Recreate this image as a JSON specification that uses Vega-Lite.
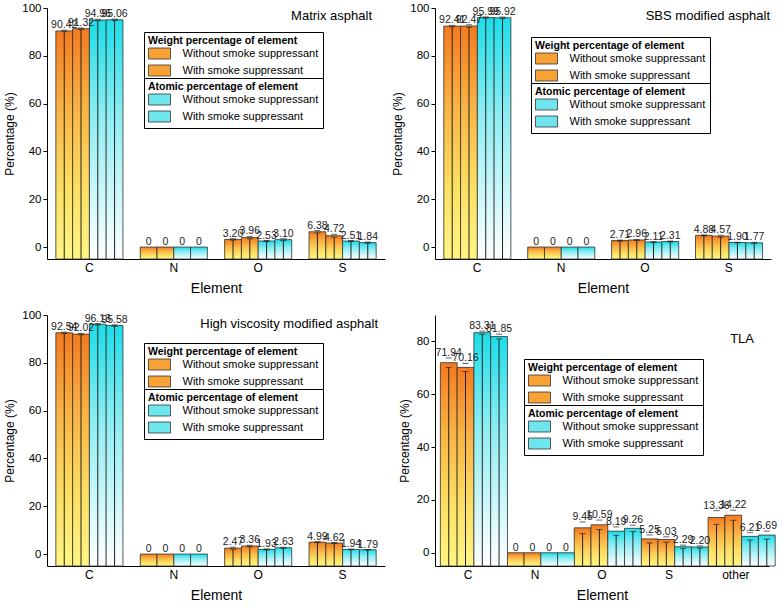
{
  "$schema": "https://vega.github.io/schema/vega-lite/v6.json",
  "padding": {"left": 3, "top": 2, "right": 5, "bottom": 5},
  "background": "white",
  "datasets": {
    "d": [
      {"p": "Matrix asphalt", "el": "C", "k": "W0", "v": 90.42, "e": 0.3},
      {"p": "Matrix asphalt", "el": "C", "k": "W1", "v": 91.32, "e": 0.3},
      {"p": "Matrix asphalt", "el": "C", "k": "A0", "v": 94.96, "e": 0.3},
      {"p": "Matrix asphalt", "el": "C", "k": "A1", "v": 95.06, "e": 0.3},
      {"p": "Matrix asphalt", "el": "N", "k": "W0", "v": 0, "e": 0},
      {"p": "Matrix asphalt", "el": "N", "k": "W1", "v": 0, "e": 0},
      {"p": "Matrix asphalt", "el": "N", "k": "A0", "v": 0, "e": 0},
      {"p": "Matrix asphalt", "el": "N", "k": "A1", "v": 0, "e": 0},
      {"p": "Matrix asphalt", "el": "O", "k": "W0", "v": 3.20, "e": 0.3},
      {"p": "Matrix asphalt", "el": "O", "k": "W1", "v": 3.96, "e": 0.5},
      {"p": "Matrix asphalt", "el": "O", "k": "A0", "v": 2.53, "e": 0.2},
      {"p": "Matrix asphalt", "el": "O", "k": "A1", "v": 3.10, "e": 0.4},
      {"p": "Matrix asphalt", "el": "S", "k": "W0", "v": 6.38, "e": 0.5},
      {"p": "Matrix asphalt", "el": "S", "k": "W1", "v": 4.72, "e": 0.6},
      {"p": "Matrix asphalt", "el": "S", "k": "A0", "v": 2.51, "e": 0.2},
      {"p": "Matrix asphalt", "el": "S", "k": "A1", "v": 1.84, "e": 0.3},
      {"p": "SBS modified asphalt", "el": "C", "k": "W0", "v": 92.41, "e": 0.3},
      {"p": "SBS modified asphalt", "el": "C", "k": "W1", "v": 92.47, "e": 0.5},
      {"p": "SBS modified asphalt", "el": "C", "k": "A0", "v": 95.99, "e": 0.3},
      {"p": "SBS modified asphalt", "el": "C", "k": "A1", "v": 95.92, "e": 0.3},
      {"p": "SBS modified asphalt", "el": "N", "k": "W0", "v": 0, "e": 0},
      {"p": "SBS modified asphalt", "el": "N", "k": "W1", "v": 0, "e": 0},
      {"p": "SBS modified asphalt", "el": "N", "k": "A0", "v": 0, "e": 0},
      {"p": "SBS modified asphalt", "el": "N", "k": "A1", "v": 0, "e": 0},
      {"p": "SBS modified asphalt", "el": "O", "k": "W0", "v": 2.71, "e": 0.2},
      {"p": "SBS modified asphalt", "el": "O", "k": "W1", "v": 2.96, "e": 0.2},
      {"p": "SBS modified asphalt", "el": "O", "k": "A0", "v": 2.11, "e": 0.1},
      {"p": "SBS modified asphalt", "el": "O", "k": "A1", "v": 2.31, "e": 0.2},
      {"p": "SBS modified asphalt", "el": "S", "k": "W0", "v": 4.88, "e": 0.2},
      {"p": "SBS modified asphalt", "el": "S", "k": "W1", "v": 4.57, "e": 0.4},
      {"p": "SBS modified asphalt", "el": "S", "k": "A0", "v": 1.90, "e": 0.1},
      {"p": "SBS modified asphalt", "el": "S", "k": "A1", "v": 1.77, "e": 0.2},
      {"p": "High viscosity modified asphalt", "el": "C", "k": "W0", "v": 92.54, "e": 0.3},
      {"p": "High viscosity modified asphalt", "el": "C", "k": "W1", "v": 92.02, "e": 0.3},
      {"p": "High viscosity modified asphalt", "el": "C", "k": "A0", "v": 96.13, "e": 0.3},
      {"p": "High viscosity modified asphalt", "el": "C", "k": "A1", "v": 95.58, "e": 0.3},
      {"p": "High viscosity modified asphalt", "el": "N", "k": "W0", "v": 0, "e": 0},
      {"p": "High viscosity modified asphalt", "el": "N", "k": "W1", "v": 0, "e": 0},
      {"p": "High viscosity modified asphalt", "el": "N", "k": "A0", "v": 0, "e": 0},
      {"p": "High viscosity modified asphalt", "el": "N", "k": "A1", "v": 0, "e": 0},
      {"p": "High viscosity modified asphalt", "el": "O", "k": "W0", "v": 2.47, "e": 0.4},
      {"p": "High viscosity modified asphalt", "el": "O", "k": "W1", "v": 3.36, "e": 0.3},
      {"p": "High viscosity modified asphalt", "el": "O", "k": "A0", "v": 1.93, "e": 0.2},
      {"p": "High viscosity modified asphalt", "el": "O", "k": "A1", "v": 2.63, "e": 0.2},
      {"p": "High viscosity modified asphalt", "el": "S", "k": "W0", "v": 4.99, "e": 0.2},
      {"p": "High viscosity modified asphalt", "el": "S", "k": "W1", "v": 4.62, "e": 0.2},
      {"p": "High viscosity modified asphalt", "el": "S", "k": "A0", "v": 1.94, "e": 0.1},
      {"p": "High viscosity modified asphalt", "el": "S", "k": "A1", "v": 1.79, "e": 0.1},
      {"p": "TLA", "el": "C", "k": "W0", "v": 71.94, "e": 1.8},
      {"p": "TLA", "el": "C", "k": "W1", "v": 70.16, "e": 1.5},
      {"p": "TLA", "el": "C", "k": "A0", "v": 83.31, "e": 0.6},
      {"p": "TLA", "el": "C", "k": "A1", "v": 81.85, "e": 0.9},
      {"p": "TLA", "el": "N", "k": "W0", "v": 0, "e": 0},
      {"p": "TLA", "el": "N", "k": "W1", "v": 0, "e": 0},
      {"p": "TLA", "el": "N", "k": "A0", "v": 0, "e": 0},
      {"p": "TLA", "el": "N", "k": "A1", "v": 0, "e": 0},
      {"p": "TLA", "el": "O", "k": "W0", "v": 9.45, "e": 2.2},
      {"p": "TLA", "el": "O", "k": "W1", "v": 10.59, "e": 1.8},
      {"p": "TLA", "el": "O", "k": "A0", "v": 8.19, "e": 1.6},
      {"p": "TLA", "el": "O", "k": "A1", "v": 9.26, "e": 1.2},
      {"p": "TLA", "el": "S", "k": "W0", "v": 5.25, "e": 1.5},
      {"p": "TLA", "el": "S", "k": "W1", "v": 5.03, "e": 1.0},
      {"p": "TLA", "el": "S", "k": "A0", "v": 2.29, "e": 0.6},
      {"p": "TLA", "el": "S", "k": "A1", "v": 2.20, "e": 0.4},
      {"p": "TLA", "el": "other", "k": "W0", "v": 13.36, "e": 2.6},
      {"p": "TLA", "el": "other", "k": "W1", "v": 14.22, "e": 1.9},
      {"p": "TLA", "el": "other", "k": "A0", "v": 6.21, "e": 1.4},
      {"p": "TLA", "el": "other", "k": "A1", "v": 6.69, "e": 1.5}
    ]
  },
  "config": {
    "view": {"stroke": null},
    "font": "Liberation Sans",
    "axis": {"grid": false, "domainColor": "#000", "tickColor": "#000", "labelColor": "#000", "titleColor": "#000", "titleFontWeight": "normal"},
    "axisX": {"ticks": false, "labelAngle": 0, "labelPadding": 3, "labelFontSize": 12, "titleFontSize": 14, "titlePadding": 8},
    "axisY": {"tickSize": 4, "labelPadding": 2, "labelFontSize": 11.5, "titleFontSize": 12, "titlePadding": 5},
    "legend": {
      "orient": "none",
      "symbolType": "M-2,-1H2V1H-2Z",
      "symbolSize": 121,
      "symbolOffset": 5.5,
      "labelOffset": 17,
      "labelFontSize": 11,
      "labelColor": "#000",
      "titleFontSize": 10.5,
      "titleFontWeight": "bold",
      "titleColor": "#000",
      "titlePadding": 1,
      "padding": 4,
      "rowPadding": 1,
      "strokeColor": "#000",
      "fillColor": "white",
      "symbolStrokeColor": "#333",
      "symbolStrokeWidth": 0.8
    }
  },
  "resolve": {"scale": {"fill": "independent", "color": "independent"}, "legend": {"fill": "independent", "color": "independent"}},
  "spacing": 14,
  "vconcat": [
    {
      "spacing": 50,
      "bounds": "flush",
      "resolve": {"scale": {"fill": "independent", "color": "independent"}, "legend": {"fill": "independent", "color": "independent"}},
      "hconcat": [
        {
          "width": 338, "height": 251,
          "title": {"text": "Matrix asphalt", "frame": "group", "anchor": "end", "offset": -21, "dx": -13, "fontSize": 13, "fontWeight": "normal"},
          "data": {"name": "d"},
          "transform": [
            {"filter": "datum.p == 'Matrix asphalt'"},
            {"calculate": "datum.v - datum.e", "as": "lo"},
            {"calculate": "datum.v + datum.e", "as": "hi"},
            {"calculate": "datum.v == 0 ? '0' : format(datum.v, '.2f')", "as": "lab"}
          ],
          "encoding": {
            "x": {"field": "el", "type": "nominal", "sort": ["C", "N", "O", "S"], "scale": {"paddingInner": 0.205, "paddingOuter": 0.105}, "axis": {"title": "Element"}},
            "xOffset": {"field": "k", "type": "nominal", "scale": {"domain": ["W0", "W1", "A0", "A1"]}},
            "y": {"field": "v", "type": "quantitative", "scale": {"domain": [-5, 100], "nice": false, "zero": false}, "axis": {"title": "Percentage (%)", "values": [0, 20, 40, 60, 80, 100]}},
            "y2": {"datum": -5}
          },
          "layer": [
            {
              "transform": [{"filter": "datum.k[0] == 'W'"}],
              "mark": {"type": "bar"},
              "encoding": {"fill": {"field": "k", "type": "nominal", "scale": {"domain": ["W0", "W1"], "range": ["#F8A236", "#F8A236"]}, "legend": {"title": "Weight percentage of element", "legendX": 97, "legendY": 24, "labelExpr": "datum.value[1] == '0' ? 'Without smoke suppressant' : 'With smoke suppressant'"}}}
            },
            {
              "transform": [{"filter": "datum.k[0] == 'A'"}],
              "mark": {"type": "bar"},
              "encoding": {"color": {"field": "k", "type": "nominal", "scale": {"domain": ["A0", "A1"], "range": ["#6FE6EE", "#6FE6EE"]}, "legend": {"title": "Atomic percentage of element", "legendX": 97, "legendY": 70, "labelExpr": "datum.value[1] == '0' ? 'Without smoke suppressant' : 'With smoke suppressant'"}}}
            },
            {
              "transform": [{"filter": "datum.k[0] == 'W'"}],
              "mark": {"type": "bar", "stroke": "#333", "strokeWidth": 0.8, "fill": {"gradient": "linear", "x1": 0, "y1": 0, "x2": 0, "y2": 1, "stops": [{"offset": 0, "color": "#F47A1F"}, {"offset": 0.35, "color": "#F9B445"}, {"offset": 0.7, "color": "#FCE064"}, {"offset": 1, "color": "#FFF584"}]}}
            },
            {
              "transform": [{"filter": "datum.k[0] == 'A'"}],
              "mark": {"type": "bar", "stroke": "#333", "strokeWidth": 0.8, "fill": {"gradient": "linear", "x1": 0, "y1": 0, "x2": 0, "y2": 1, "stops": [{"offset": 0, "color": "#1CDDE8"}, {"offset": 0.4, "color": "#8DEDF3"}, {"offset": 1, "color": "#FFFFFF"}]}}
            },
            {
              "transform": [{"filter": "datum.e > 0"}],
              "mark": {"type": "rule", "color": "#222", "strokeWidth": 1},
              "encoding": {"y": {"field": "lo", "type": "quantitative"}, "y2": {"field": "hi"}}
            },
            {
              "transform": [{"filter": "datum.e > 0"}],
              "mark": {"type": "tick", "size": 6, "thickness": 1, "color": "#222"},
              "encoding": {"y": {"field": "hi", "type": "quantitative"}, "y2": null}
            },
            {
              "transform": [{"filter": "datum.e > 0"}],
              "mark": {"type": "tick", "size": 6, "thickness": 1, "color": "#222"},
              "encoding": {"y": {"field": "lo", "type": "quantitative"}, "y2": null}
            },
            {
              "mark": {"type": "text", "fontSize": 10.5, "dy": -2, "baseline": "alphabetic", "color": "#222"},
              "encoding": {"y": {"field": "hi", "type": "quantitative"}, "y2": null, "text": {"field": "lab"}}
            }
          ]
        },
        {
          "width": 336, "height": 251,
          "title": {"text": "SBS modified asphalt", "frame": "group", "anchor": "end", "offset": -21, "dx": -1, "fontSize": 13, "fontWeight": "normal"},
          "data": {"name": "d"},
          "transform": [
            {"filter": "datum.p == 'SBS modified asphalt'"},
            {"calculate": "datum.v - datum.e", "as": "lo"},
            {"calculate": "datum.v + datum.e", "as": "hi"},
            {"calculate": "datum.v == 0 ? '0' : format(datum.v, '.2f')", "as": "lab"}
          ],
          "encoding": {
            "x": {"field": "el", "type": "nominal", "sort": ["C", "N", "O", "S"], "scale": {"paddingInner": 0.205, "paddingOuter": 0.105}, "axis": {"title": "Element"}},
            "xOffset": {"field": "k", "type": "nominal", "scale": {"domain": ["W0", "W1", "A0", "A1"]}},
            "y": {"field": "v", "type": "quantitative", "scale": {"domain": [-5, 100], "nice": false, "zero": false}, "axis": {"title": "Percentage (%)", "values": [0, 20, 40, 60, 80, 100]}},
            "y2": {"datum": -5}
          },
          "layer": [
            {
              "transform": [{"filter": "datum.k[0] == 'W'"}],
              "mark": {"type": "bar"},
              "encoding": {"fill": {"field": "k", "type": "nominal", "scale": {"domain": ["W0", "W1"], "range": ["#F8A236", "#F8A236"]}, "legend": {"title": "Weight percentage of element", "legendX": 96, "legendY": 29, "labelExpr": "datum.value[1] == '0' ? 'Without smoke suppressant' : 'With smoke suppressant'"}}}
            },
            {
              "transform": [{"filter": "datum.k[0] == 'A'"}],
              "mark": {"type": "bar"},
              "encoding": {"color": {"field": "k", "type": "nominal", "scale": {"domain": ["A0", "A1"], "range": ["#6FE6EE", "#6FE6EE"]}, "legend": {"title": "Atomic percentage of element", "legendX": 96, "legendY": 75, "labelExpr": "datum.value[1] == '0' ? 'Without smoke suppressant' : 'With smoke suppressant'"}}}
            },
            {
              "transform": [{"filter": "datum.k[0] == 'W'"}],
              "mark": {"type": "bar", "stroke": "#333", "strokeWidth": 0.8, "fill": {"gradient": "linear", "x1": 0, "y1": 0, "x2": 0, "y2": 1, "stops": [{"offset": 0, "color": "#F47A1F"}, {"offset": 0.35, "color": "#F9B445"}, {"offset": 0.7, "color": "#FCE064"}, {"offset": 1, "color": "#FFF584"}]}}
            },
            {
              "transform": [{"filter": "datum.k[0] == 'A'"}],
              "mark": {"type": "bar", "stroke": "#333", "strokeWidth": 0.8, "fill": {"gradient": "linear", "x1": 0, "y1": 0, "x2": 0, "y2": 1, "stops": [{"offset": 0, "color": "#1CDDE8"}, {"offset": 0.4, "color": "#8DEDF3"}, {"offset": 1, "color": "#FFFFFF"}]}}
            },
            {
              "transform": [{"filter": "datum.e > 0"}],
              "mark": {"type": "rule", "color": "#222", "strokeWidth": 1},
              "encoding": {"y": {"field": "lo", "type": "quantitative"}, "y2": {"field": "hi"}}
            },
            {
              "transform": [{"filter": "datum.e > 0"}],
              "mark": {"type": "tick", "size": 6, "thickness": 1, "color": "#222"},
              "encoding": {"y": {"field": "hi", "type": "quantitative"}, "y2": null}
            },
            {
              "transform": [{"filter": "datum.e > 0"}],
              "mark": {"type": "tick", "size": 6, "thickness": 1, "color": "#222"},
              "encoding": {"y": {"field": "lo", "type": "quantitative"}, "y2": null}
            },
            {
              "mark": {"type": "text", "fontSize": 10.5, "dy": -2, "baseline": "alphabetic", "color": "#222"},
              "encoding": {"y": {"field": "hi", "type": "quantitative"}, "y2": null, "text": {"field": "lab"}}
            }
          ]
        }
      ]
    },
    {
      "spacing": 50,
      "bounds": "flush",
      "resolve": {"scale": {"fill": "independent", "color": "independent"}, "legend": {"fill": "independent", "color": "independent"}},
      "hconcat": [
        {
          "width": 338, "height": 251,
          "title": {"text": "High viscosity modified asphalt", "frame": "group", "anchor": "end", "offset": -22, "dx": -7, "fontSize": 13, "fontWeight": "normal"},
          "data": {"name": "d"},
          "transform": [
            {"filter": "datum.p == 'High viscosity modified asphalt'"},
            {"calculate": "datum.v - datum.e", "as": "lo"},
            {"calculate": "datum.v + datum.e", "as": "hi"},
            {"calculate": "datum.v == 0 ? '0' : format(datum.v, '.2f')", "as": "lab"}
          ],
          "encoding": {
            "x": {"field": "el", "type": "nominal", "sort": ["C", "N", "O", "S"], "scale": {"paddingInner": 0.205, "paddingOuter": 0.105}, "axis": {"title": "Element"}},
            "xOffset": {"field": "k", "type": "nominal", "scale": {"domain": ["W0", "W1", "A0", "A1"]}},
            "y": {"field": "v", "type": "quantitative", "scale": {"domain": [-5, 100], "nice": false, "zero": false}, "axis": {"title": "Percentage (%)", "values": [0, 20, 40, 60, 80, 100]}},
            "y2": {"datum": -5}
          },
          "layer": [
            {
              "transform": [{"filter": "datum.k[0] == 'W'"}],
              "mark": {"type": "bar"},
              "encoding": {"fill": {"field": "k", "type": "nominal", "scale": {"domain": ["W0", "W1"], "range": ["#F8A236", "#F8A236"]}, "legend": {"title": "Weight percentage of element", "legendX": 97, "legendY": 28, "labelExpr": "datum.value[1] == '0' ? 'Without smoke suppressant' : 'With smoke suppressant'"}}}
            },
            {
              "transform": [{"filter": "datum.k[0] == 'A'"}],
              "mark": {"type": "bar"},
              "encoding": {"color": {"field": "k", "type": "nominal", "scale": {"domain": ["A0", "A1"], "range": ["#6FE6EE", "#6FE6EE"]}, "legend": {"title": "Atomic percentage of element", "legendX": 97, "legendY": 74, "labelExpr": "datum.value[1] == '0' ? 'Without smoke suppressant' : 'With smoke suppressant'"}}}
            },
            {
              "transform": [{"filter": "datum.k[0] == 'W'"}],
              "mark": {"type": "bar", "stroke": "#333", "strokeWidth": 0.8, "fill": {"gradient": "linear", "x1": 0, "y1": 0, "x2": 0, "y2": 1, "stops": [{"offset": 0, "color": "#F47A1F"}, {"offset": 0.35, "color": "#F9B445"}, {"offset": 0.7, "color": "#FCE064"}, {"offset": 1, "color": "#FFF584"}]}}
            },
            {
              "transform": [{"filter": "datum.k[0] == 'A'"}],
              "mark": {"type": "bar", "stroke": "#333", "strokeWidth": 0.8, "fill": {"gradient": "linear", "x1": 0, "y1": 0, "x2": 0, "y2": 1, "stops": [{"offset": 0, "color": "#1CDDE8"}, {"offset": 0.4, "color": "#8DEDF3"}, {"offset": 1, "color": "#FFFFFF"}]}}
            },
            {
              "transform": [{"filter": "datum.e > 0"}],
              "mark": {"type": "rule", "color": "#222", "strokeWidth": 1},
              "encoding": {"y": {"field": "lo", "type": "quantitative"}, "y2": {"field": "hi"}}
            },
            {
              "transform": [{"filter": "datum.e > 0"}],
              "mark": {"type": "tick", "size": 6, "thickness": 1, "color": "#222"},
              "encoding": {"y": {"field": "hi", "type": "quantitative"}, "y2": null}
            },
            {
              "transform": [{"filter": "datum.e > 0"}],
              "mark": {"type": "tick", "size": 6, "thickness": 1, "color": "#222"},
              "encoding": {"y": {"field": "lo", "type": "quantitative"}, "y2": null}
            },
            {
              "mark": {"type": "text", "fontSize": 10.5, "dy": -2, "baseline": "alphabetic", "color": "#222"},
              "encoding": {"y": {"field": "hi", "type": "quantitative"}, "y2": null, "text": {"field": "lab"}}
            }
          ]
        },
        {
          "width": 334, "height": 251,
          "title": {"text": "TLA", "frame": "group", "anchor": "end", "offset": -31, "dx": -15, "fontSize": 13, "fontWeight": "normal"},
          "data": {"name": "d"},
          "transform": [
            {"filter": "datum.p == 'TLA'"},
            {"calculate": "datum.v - datum.e", "as": "lo"},
            {"calculate": "datum.v + datum.e", "as": "hi"},
            {"calculate": "datum.v == 0 ? '0' : format(datum.v, '.2f')", "as": "lab"}
          ],
          "encoding": {
            "x": {"field": "el", "type": "nominal", "sort": ["C", "N", "O", "S", "other"], "scale": {"paddingInner": 0.17, "paddingOuter": 0.08}, "axis": {"title": "Element"}},
            "xOffset": {"field": "k", "type": "nominal", "scale": {"domain": ["W0", "W1", "A0", "A1"]}},
            "y": {"field": "v", "type": "quantitative", "scale": {"domain": [-5, 90], "nice": false, "zero": false}, "axis": {"title": "Percentage (%)", "values": [0, 20, 40, 60, 80]}},
            "y2": {"datum": -5}
          },
          "layer": [
            {
              "transform": [{"filter": "datum.k[0] == 'W'"}],
              "mark": {"type": "bar"},
              "encoding": {"fill": {"field": "k", "type": "nominal", "scale": {"domain": ["W0", "W1"], "range": ["#F8A236", "#F8A236"]}, "legend": {"title": "Weight percentage of element", "legendX": 89, "legendY": 44, "labelExpr": "datum.value[1] == '0' ? 'Without smoke suppressant' : 'With smoke suppressant'"}}}
            },
            {
              "transform": [{"filter": "datum.k[0] == 'A'"}],
              "mark": {"type": "bar"},
              "encoding": {"color": {"field": "k", "type": "nominal", "scale": {"domain": ["A0", "A1"], "range": ["#6FE6EE", "#6FE6EE"]}, "legend": {"title": "Atomic percentage of element", "legendX": 89, "legendY": 90, "labelExpr": "datum.value[1] == '0' ? 'Without smoke suppressant' : 'With smoke suppressant'"}}}
            },
            {
              "transform": [{"filter": "datum.k[0] == 'W'"}],
              "mark": {"type": "bar", "stroke": "#333", "strokeWidth": 0.8, "fill": {"gradient": "linear", "x1": 0, "y1": 0, "x2": 0, "y2": 1, "stops": [{"offset": 0, "color": "#F47A1F"}, {"offset": 0.35, "color": "#F9B445"}, {"offset": 0.7, "color": "#FCE064"}, {"offset": 1, "color": "#FFF584"}]}}
            },
            {
              "transform": [{"filter": "datum.k[0] == 'A'"}],
              "mark": {"type": "bar", "stroke": "#333", "strokeWidth": 0.8, "fill": {"gradient": "linear", "x1": 0, "y1": 0, "x2": 0, "y2": 1, "stops": [{"offset": 0, "color": "#1CDDE8"}, {"offset": 0.4, "color": "#8DEDF3"}, {"offset": 1, "color": "#FFFFFF"}]}}
            },
            {
              "transform": [{"filter": "datum.e > 0"}],
              "mark": {"type": "rule", "color": "#222", "strokeWidth": 1},
              "encoding": {"y": {"field": "lo", "type": "quantitative"}, "y2": {"field": "hi"}}
            },
            {
              "transform": [{"filter": "datum.e > 0"}],
              "mark": {"type": "tick", "size": 6, "thickness": 1, "color": "#222"},
              "encoding": {"y": {"field": "hi", "type": "quantitative"}, "y2": null}
            },
            {
              "transform": [{"filter": "datum.e > 0"}],
              "mark": {"type": "tick", "size": 6, "thickness": 1, "color": "#222"},
              "encoding": {"y": {"field": "lo", "type": "quantitative"}, "y2": null}
            },
            {
              "mark": {"type": "text", "fontSize": 10.5, "dy": -2, "baseline": "alphabetic", "color": "#222"},
              "encoding": {"y": {"field": "hi", "type": "quantitative"}, "y2": null, "text": {"field": "lab"}}
            }
          ]
        }
      ]
    }
  ]
}
